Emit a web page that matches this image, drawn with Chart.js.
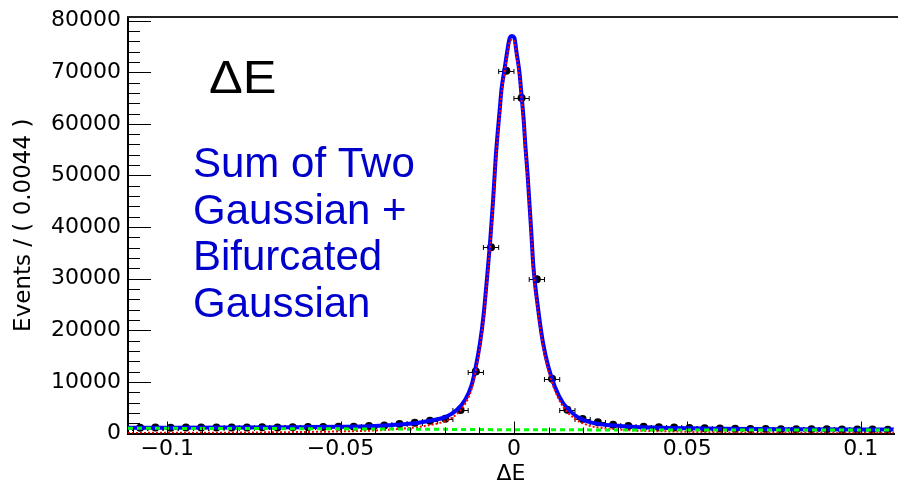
<!DOCTYPE html>
<html>
<head>
<meta charset="utf-8">
<title>Delta E fit</title>
<script src="https://cdn.jsdelivr.net/npm/chart.js@4.4.1/dist/chart.umd.min.js"></script>
<style>
  html, body { margin: 0; padding: 0; background: #fff; overflow: hidden; }
  #wrap { width: 898px; height: 482px; }
</style>
</head>
<body>
<div id="wrap"><canvas id="graph0" width="898" height="482"></canvas></div>
<script>
var binCenters = [
  -0.1078, -0.1034, -0.0990, -0.0946, -0.0902, -0.0858, -0.0814, -0.0770, -0.0726, -0.0682,
  -0.0638, -0.0594, -0.0550, -0.0506, -0.0462, -0.0418, -0.0374, -0.0330, -0.0286, -0.0242,
  -0.0198, -0.0154, -0.0110, -0.0066, -0.0022, 0.0022, 0.0066, 0.0110, 0.0154, 0.0198,
  0.0242, 0.0286, 0.0330, 0.0374, 0.0418, 0.0462, 0.0506, 0.0550, 0.0594, 0.0638,
  0.0682, 0.0726, 0.0770, 0.0814, 0.0858, 0.0902, 0.0946, 0.0990, 0.1034, 0.1078
];
var binHalfWidth = 0.0022;
var events = [
  1130, 1150, 1120, 1150, 1140, 1160, 1180, 1150, 1200, 1180,
  1220, 1250, 1280, 1300, 1320, 1430, 1550, 1820, 2100, 2450,
  2850, 4550, 12000, 36100, 70300, 65000, 29900, 10600, 4600, 2800,
  2170, 1680, 1450, 1320, 1200, 1180, 1050, 1000, 950, 930,
  880, 870, 840, 830, 800, 800, 780, 770, 760, 750
];

// fitted curves
var curveX = [
  -0.1113, -0.08, -0.06, -0.05, -0.042, -0.036, -0.032, -0.028, -0.0246, -0.0218,
  -0.0194, -0.0165, -0.0141, -0.0122, -0.011, -0.0098, -0.0088, -0.0079, -0.0069, -0.006,
  -0.0053, -0.0047, -0.0041, -0.0036, -0.0028, -0.002, -0.0012, -0.0006, 0.0001, 0.00075,
  0.0016, 0.0022, 0.0028, 0.0033, 0.0039, 0.0044, 0.005, 0.0056, 0.007, 0.0084,
  0.0099, 0.0118, 0.0142, 0.0175, 0.0214, 0.025, 0.03, 0.035, 0.045, 0.06,
  0.08, 0.1096
];
var totalY = [
  1130, 1150, 1230, 1300, 1420, 1600, 1800, 2050, 2430, 2800,
  3300, 4560, 6500, 9400, 12960, 17500, 22660, 29140, 36900, 45300,
  53070, 58250, 62770, 66650, 70200, 73770, 76680, 77000, 76700, 73800,
  69900, 65400, 60800, 55700, 50500, 45300, 39000, 32400, 24000, 17500,
  12960, 9080, 5860, 3590, 2290, 1800, 1480, 1250, 1080, 900,
  810, 760
];
var signalY = [
  110, 180, 300, 400, 540, 740, 950, 1210, 1600, 1990,
  2500, 3770, 5720, 8630, 12190, 16740, 21900, 28390, 36150, 44560,
  52330, 57510, 62030, 65920, 69470, 73040, 75960, 76280, 75980, 73080,
  69180, 64680, 60080, 54980, 49780, 44580, 38280, 31680, 23290, 16790,
  12250, 8370, 5150, 2880, 1590, 1100, 780, 560, 400, 220,
  140, 100
];
var bkgX = [-0.1113, -0.06, -0.025, 0, 0.05, 0.1096];
var bkgY = [1020, 930, 830, 720, 680, 660];

var xMin = -0.1113, xMax = 0.1096;
var yMin = 0, yMax = 80700;
var xTicks = [-0.1, -0.05, 0, 0.05, 0.1];
var xTickLabels = ["\u22120.1", "\u22120.05", "0", "0.05", "0.1"];
var yTicks = [0, 10000, 20000, 30000, 40000, 50000, 60000, 70000, 80000];
var yTickLabels = ["0", "10000", "20000", "30000", "40000", "50000", "60000", "70000", "80000"];
var xTitle = "\u0394E";
var yTitle = "Events / ( 0.0044 )";
var plotTitle = "\u0394E";
var fitLabel = ["Sum of Two", "Gaussian +", "Bifurcated", "Gaussian"];

function toXY(xs, ys) {
  var out = [];
  for (var i = 0; i < xs.length; i++) {
    out.push({x: xs[i], y: ys[i]});
  }
  return out;
}

var errorBars = {
  id: 'errorBars',
  beforeDatasetsDraw: function(chart) {
    var ctx = chart.ctx, xs = chart.scales.x, ys = chart.scales.y, a = chart.chartArea;
    ctx.save();
    ctx.beginPath();
    ctx.rect(a.left, a.top, a.right - a.left, a.bottom - a.top);
    ctx.clip();
    ctx.strokeStyle = '#000';
    ctx.lineWidth = 1;
    for (var i = 0; i < binCenters.length; i++) {
      var x0 = xs.getPixelForValue(binCenters[i] - binHalfWidth);
      var x1 = xs.getPixelForValue(binCenters[i] + binHalfWidth);
      var y = Math.round(ys.getPixelForValue(events[i])) + 0.5;
      ctx.beginPath();
      ctx.moveTo(x0, y); ctx.lineTo(x1, y);
      ctx.moveTo(x0, y - 2.5); ctx.lineTo(x0, y + 2.5);
      ctx.moveTo(x1, y - 2.5); ctx.lineTo(x1, y + 2.5);
      ctx.stroke();
    }
    ctx.restore();
  }
};

var frameTicks = {
  id: 'frameTicks',
  afterDatasetsDraw: function(chart) {
    var ctx = chart.ctx, xs = chart.scales.x, ys = chart.scales.y, a = chart.chartArea;
    ctx.save();
    ctx.strokeStyle = '#000';
    ctx.lineWidth = 1;
    ctx.beginPath();
    var v, p;
    for (v = 0; v <= yMax; v += 2000) {
      p = Math.round(ys.getPixelForValue(v)) + 0.5;
      var len = (v % 10000 === 0) ? 23 : 12;
      ctx.moveTo(a.left, p); ctx.lineTo(a.left + len, p);
    }
    for (var k = -11; k <= 11; k++) {
      v = k / 100;
      if (v < xMin || v > xMax) continue;
      p = Math.round(xs.getPixelForValue(v)) + 0.5;
      var l2 = (k % 5 === 0) ? 12 : 6;
      ctx.moveTo(p, a.bottom); ctx.lineTo(p, a.bottom - l2);
    }
    ctx.stroke();
    ctx.lineWidth = 2;
    ctx.strokeStyle = '#222';
    ctx.beginPath();
    ctx.moveTo(a.left - 1, a.top); ctx.lineTo(chart.width, a.top);
    ctx.stroke();
    ctx.restore();
  }
};

var labels = {
  id: 'labels',
  afterDraw: function(chart) {
    var ctx = chart.ctx;
    ctx.save();
    ctx.textAlign = 'left';
    ctx.textBaseline = 'alphabetic';
    ctx.fillStyle = '#000';
    ctx.font = '46px "Liberation Sans"';
    ctx.translate(209, 93);
    ctx.scale(1.1, 1);
    ctx.fillText(plotTitle, 0, 0);
    ctx.restore();

    ctx.save();
    ctx.fillStyle = '#0000cc';
    ctx.font = '42px "Liberation Sans"';
    ctx.textBaseline = 'alphabetic';
    for (var i = 0; i < fitLabel.length; i++) {
      ctx.fillText(fitLabel[i], 193, 177 + i * 46.6);
    }
    ctx.restore();
  }
};

function drawGraph() {
  var ctx = document.getElementById('graph0');
  var axisFont = {family: 'DejaVu Sans', size: 22};

  new Chart(ctx, {
    type: 'line',
    data: {
      datasets: [
        {
          label: 'background',
          data: toXY(bkgX, bkgY),
          borderColor: '#00ff00',
          borderWidth: 3,
          borderDash: [5, 4],
          pointRadius: 0,
          tension: 0
        },
        {
          label: 'signal',
          data: toXY(curveX, signalY),
          borderColor: '#ff0000',
          borderWidth: 2,
          borderDash: [2, 2],
          pointRadius: 0,
          cubicInterpolationMode: 'monotone'
        },
        {
          label: 'total',
          data: toXY(curveX, totalY),
          borderColor: '#0000ff',
          borderWidth: 4,
          pointRadius: 0,
          cubicInterpolationMode: 'monotone'
        },
        {
          label: 'data',
          data: toXY(binCenters, events),
          showLine: false,
          pointRadius: 4,
          pointBackgroundColor: '#000',
          pointBorderColor: '#000',
          pointBorderWidth: 0
        }
      ]
    },
    options: {
      responsive: false,
      animation: false,
      devicePixelRatio: 1,
      layout: {padding: {top: 17, right: 1, left: 0, bottom: 0}},
      plugins: {legend: {display: false}, tooltip: {enabled: false}},
      scales: {
        x: {
          type: 'linear',
          min: xMin,
          max: xMax,
          afterBuildTicks: function(s) {
            s.ticks = xTicks.map(function(v) { return {value: v}; });
          },
          afterFit: function(s) {
            s.height = 48.5;
            s.paddingLeft = 0; s.paddingRight = 0;
          },
          grid: {display: false, drawTicks: false},
          border: {display: true, color: '#000', width: 2},
          ticks: {
            padding: 3,
            color: '#000',
            font: axisFont,
            maxRotation: 0,
            autoSkip: false,
            callback: function(v, i) { return xTickLabels[i]; }
          },
          title: {
            display: true,
            text: xTitle,
            color: '#000',
            font: {family: 'DejaVu Sans', size: 22, lineHeight: 1},
            padding: {top: 0, bottom: -3}
          }
        },
        y: {
          type: 'linear',
          min: yMin,
          max: yMax,
          afterBuildTicks: function(s) {
            s.ticks = yTicks.map(function(v) { return {value: v}; });
          },
          afterFit: function(s) {
            s.width = 128;
            s.paddingTop = 0; s.paddingBottom = 0;
          },
          grid: {display: false, drawTicks: false},
          border: {display: true, color: '#000', width: 2},
          ticks: {
            padding: 7,
            color: '#000',
            font: axisFont,
            autoSkip: false,
            callback: function(v, i) { return yTickLabels[i]; }
          },
          title: {
            display: true,
            text: yTitle,
            color: '#000',
            font: {family: 'DejaVu Sans', size: 23},
            padding: {top: 10, bottom: 0}
          }
        }
      }
    },
    plugins: [errorBars, frameTicks, labels]
  });
}

drawGraph();
</script>
</body>
</html>
